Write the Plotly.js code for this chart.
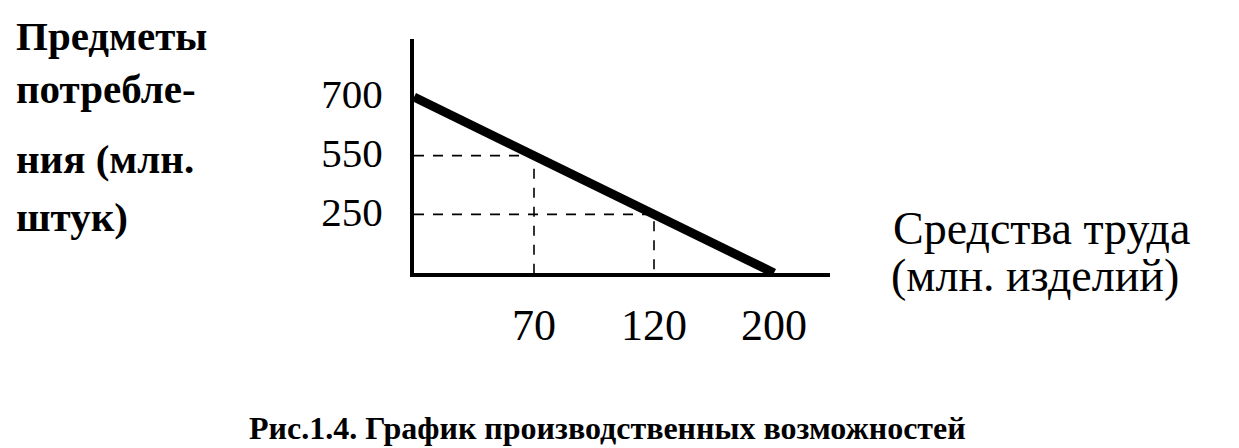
<!DOCTYPE html>
<html>
<head>
<meta charset="utf-8">
<script src="https://cdn.plot.ly/plotly-3.0.1.min.js"></script>
<style>
  html, body { margin: 0; padding: 0; background: #ffffff; }
  #chart { width: 1239px; height: 448px; }
</style>
</head>
<body>
<div id="chart"></div>
<script>
// ---- data ----
const labourMeans   = ["0", "70", "120", "200"];   // Средства труда, млн. изделий
const consumerGoods = ["700", "550", "250", "0"];  // Предметы потребления, млн. штук
const xTickLabels = ["70", "120", "200"];
const yTickLabels = ["250", "550", "700"];
const yCategoryOrder = ["0", "250", "550", "700"];

const yTitleLines = ["Предметы", "потребле-", "ния (млн.", "штук)"];
const xTitleLines = ["Средства труда", "(млн. изделий)"];
const caption = "Рис.1.4. График производственных возможностей";

// ---- layout geometry (pixels) ----
const W = 1239, H = 448;
const L = 414, R = 830, T = 39, B = 273;
const px = x => (x - L) / (R - L);
const py = y => (B - y) / (B - T);

const serif = "Liberation Serif, Times New Roman, serif";

const traces = [];
// dashed guide lines for the two intermediate points
[1, 2].forEach(i => {
  traces.push({
    x: [labourMeans[0], labourMeans[i], labourMeans[i]],
    y: [consumerGoods[i], consumerGoods[i], consumerGoods[3]],
    type: "scatter", mode: "lines",
    line: { color: "#000", width: 1.6, dash: "10px,9px" },
    hoverinfo: "skip", showlegend: false, cliponaxis: false
  });
});
// production possibilities frontier
traces.push({
  x: labourMeans, y: consumerGoods,
  type: "scatter", mode: "lines",
  line: { color: "#000", width: 9 },
  hoverinfo: "skip", showlegend: false, cliponaxis: false
});

const annotations = [];
const yTitleY = [36, 89, 159, 217];
yTitleLines.forEach((t, i) => annotations.push({
  text: t, xref: "paper", yref: "paper", x: px(14), y: py(yTitleY[i]),
  xanchor: "left", yanchor: "middle", showarrow: false,
  font: { family: serif, size: 41, color: "#000", weight: "bold" }
}));
const xTitleY = [228, 275];
const xTitleX = [891, 889];
xTitleLines.forEach((t, i) => annotations.push({
  text: t, xref: "paper", yref: "paper", x: px(xTitleX[i]), y: py(xTitleY[i]),
  xanchor: "left", yanchor: "middle", showarrow: false,
  font: { family: serif, size: 46, color: "#000" }
}));
annotations.push({
  text: caption, xref: "paper", yref: "paper", x: px(607), y: py(428),
  xanchor: "center", yanchor: "middle", showarrow: false,
  font: { family: serif, size: 32, color: "#000", weight: "bold" }
});

const layout = {
  width: W, height: H,
  margin: { l: L, r: W - R, t: T, b: H - B, pad: 0 },
  paper_bgcolor: "#fff", plot_bgcolor: "#fff",
  showlegend: false,
  xaxis: {
    type: "category", categoryorder: "array", categoryarray: labourMeans,
    range: [0, (R - L) / 120],
    tickvals: xTickLabels, ticktext: xTickLabels,
    ticks: "", showgrid: false, zeroline: false,
    showline: true, linecolor: "#000", linewidth: 4,
    ticklabelstandoff: 10,
    tickfont: { family: serif, size: 44, color: "#000" },
    fixedrange: true
  },
  yaxis: {
    type: "category", categoryorder: "array", categoryarray: yCategoryOrder,
    range: [0, (B - T) / 58.67],
    tickvals: yTickLabels, ticktext: yTickLabels,
    ticks: "", showgrid: false, zeroline: false,
    showline: true, linecolor: "#000", linewidth: 4,
    ticklabelstandoff: 19,
    ticklabelshift: -3,
    tickfont: { family: serif, size: 41, color: "#000" },
    fixedrange: true
  },
  annotations: annotations
};

Plotly.newPlot("chart", traces, layout, { staticPlot: true, displayModeBar: false });
</script>
</body>
</html>
